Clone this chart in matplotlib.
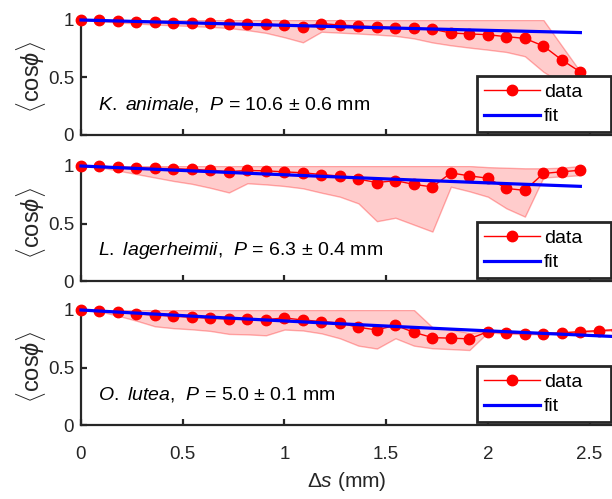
import numpy as np
import matplotlib
matplotlib.use('Agg')
import matplotlib.pyplot as plt
from matplotlib.transforms import blended_transform_factory

plt.rcParams['font.family'] = ['Liberation Sans', 'DejaVu Sans']
plt.rcParams['mathtext.fontset'] = 'custom'
plt.rcParams['mathtext.rm'] = 'Liberation Sans'
plt.rcParams['mathtext.it'] = 'Liberation Sans:italic'

# sample spacing along the filament (mm)
step = 1.0 / 11

# <cos phi> mean and shaded spread, one set per species
mean_ka = [1.000, 0.996, 0.991, 0.986, 0.981, 0.977, 0.976, 0.974, 0.969, 0.969,
           0.963, 0.956, 0.941, 0.969, 0.956, 0.948, 0.941, 0.934, 0.928, 0.920,
           0.887, 0.879, 0.872, 0.855, 0.840, 0.774, 0.652, 0.548]
lo_ka = [1.000, 0.990, 0.978, 0.970, 0.960, 0.954, 0.947, 0.940, 0.930, 0.912,
         0.888, 0.850, 0.806, 0.898, 0.890, 0.882, 0.873, 0.862, 0.840, 0.805,
         0.780, 0.760, 0.742, 0.722, 0.685, 0.550, 0.450, 0.400]
hi_ka = [1.0] * 26 + [0.775, 0.550]

mean_ll = [1.000, 1.000, 0.988, 0.983, 0.980, 0.977, 0.971, 0.962, 0.952, 0.961,
           0.958, 0.949, 0.941, 0.926, 0.912, 0.886, 0.856, 0.873, 0.840, 0.818,
           0.940, 0.914, 0.894, 0.805, 0.788, 0.935, 0.950, 0.963]
lo_ll = [1.000, 0.990, 0.960, 0.930, 0.900, 0.870, 0.845, 0.810, 0.770, 0.850,
         0.840, 0.826, 0.806, 0.768, 0.733, 0.675, 0.520, 0.550, 0.490, 0.430,
         0.820, 0.780, 0.733, 0.632, 0.560, 0.900, 0.910, 0.920]
hi_ll = [1.0] * 22 + [0.990, 0.985, 0.980, 0.980, 0.985, 1.000]

mean_ol = [1.000, 0.990, 0.979, 0.966, 0.956, 0.946, 0.937, 0.928, 0.921, 0.921,
           0.917, 0.931, 0.913, 0.900, 0.887, 0.849, 0.827, 0.867, 0.806, 0.760,
           0.755, 0.749, 0.812, 0.799, 0.795, 0.795, 0.801, 0.812, 0.820, 0.830]
lo_ol = [1.000, 0.988, 0.950, 0.907, 0.858, 0.842, 0.832, 0.818, 0.792, 0.788,
         0.780, 0.830, 0.822, 0.797, 0.754, 0.690, 0.665, 0.754, 0.690, 0.667,
         0.660, 0.652, 0.805, 0.794, 0.790, 0.790, 0.796, 0.807, 0.815, 0.825]
hi_ol = [1.0] * 19 + [0.850, 0.830, 0.800, 0.818, 0.804, 0.800, 0.800, 0.806,
                      0.817, 0.825, 0.835]

species = [r'$\mathit{K.\ animale}$', r'$\mathit{L.\ lagerheimii}$', r'$\mathit{O.\ lutea}$']
P_mm = [10.6, 6.3, 5.0]
P_err = [0.6, 0.4, 0.1]
means = [mean_ka, mean_ll, mean_ol]
lows = [lo_ka, lo_ll, lo_ol]
highs = [hi_ka, hi_ll, hi_ol]

xticks = [0, 0.5, 1, 1.5, 2, 2.5]
xticklabels = ['0', '0.5', '1', '1.5', '2', '2.5']
yticks = [0, 0.5, 1]
yticklabels = ['0', '0.5', '1']

dark = '#262626'
W, H = 612, 499
fig = plt.figure(figsize=(W / 100, H / 100), dpi=100)

# axes tops (pixels from top) for the three panels, each 115 px tall
tops = [20, 166, 310]
ax_h = 115

for k in range(3):
    ax = fig.add_axes([81 / W, 1 - (tops[k] + ax_h) / H, 1 - 81 / W, ax_h / H])
    m = np.array(means[k])
    s = np.arange(len(m)) * step

    ax.fill_between(s, lows[k], highs[k], facecolor=(1, 0, 0, 0.2),
                    edgecolor=(1, 0, 0, 0.3), linewidth=1, zorder=1)
    ax.plot(s, m, '-o', color='red', lw=1, ms=7.5, label='data',
            clip_on=False, zorder=3)
    fit = np.exp(-s / (2 * P_mm[k]))
    ax.plot(s, fit, color='blue', lw=2.3, label='fit', clip_on=False, zorder=4)

    ax.set_xlim(0, 2.61)
    ax.set_ylim(0, 1)
    ax.set_xticks(xticks)
    ax.set_yticks(yticks)
    ax.set_yticklabels(yticklabels)
    if k == 2:
        ax.set_xticklabels(xticklabels)
        ax.set_xlabel(r'$\Delta\mathit{s}$ (mm)', fontsize=15, color=dark, labelpad=5)
    else:
        ax.set_xticklabels([])
    ax.set_ylabel(r'$\langle\mathrm{cos}\phi\rangle$', fontsize=17, color=dark, labelpad=0)

    for side in ['top', 'right']:
        ax.spines[side].set_visible(False)
    for side in ['left', 'bottom']:
        ax.spines[side].set_linewidth(1.6)
        ax.spines[side].set_color(dark)
    ax.tick_params(direction='in', length=4, width=1.6, color=dark,
                   labelsize=13.5, labelcolor=dark)
    ax.tick_params(axis='x', pad=15)
    ax.tick_params(axis='y', pad=5)

    ax.text(0.083, 0.265,
            species[k] + r',  $\mathit{P}$ = %.1f $\pm$ %.1f mm' % (P_mm[k], P_err[k]),
            fontsize=14, va='center', ha='left', color='black')

    tr = blended_transform_factory(fig.transFigure, ax.transAxes)
    leg = ax.legend(loc='lower left', bbox_to_anchor=(477 / W, 0.025, 134 / W, 0.5),
                    bbox_transform=tr, mode='expand', fontsize=14,
                    handlelength=2.9, handletextpad=0.2, borderpad=0.35,
                    labelspacing=0.35, borderaxespad=0, fancybox=False,
                    framealpha=1, edgecolor=dark)
    leg.get_frame().set_linewidth(2)
    leg.set_zorder(10)

fig.savefig('out.png', dpi=100)
